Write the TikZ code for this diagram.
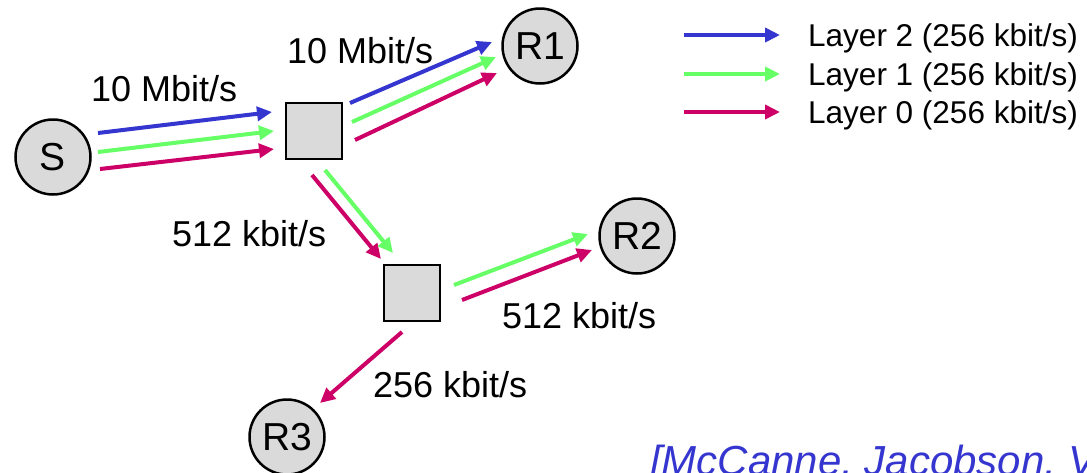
\documentclass[tikz,border=0pt]{standalone}
\usepackage{fontspec}
\setmainfont{Liberation Sans}
\usetikzlibrary{arrows.meta}
\definecolor{lblue}{HTML}{3535CF}
\definecolor{lgreen}{HTML}{66FF66}
\definecolor{lred}{HTML}{CC0066}
\definecolor{nodegray}{HTML}{DADADA}
\begin{document}
\begin{tikzpicture}[x=1pt,y=-1pt,
  host/.style={circle,draw=black,line width=2.5pt,fill=nodegray,minimum size=75pt,inner sep=0pt,font=\fontsize{39}{44}\selectfont},
  router/.style={rectangle,draw=black,line width=2.5pt,fill=nodegray,minimum size=56pt,inner sep=0pt},
  flow/.style={line width=4pt,-{Triangle[length=15pt,width=14pt]}},
  lbl/.style={font=\fontsize{36}{40}\selectfont,inner sep=0pt,anchor=base west},
  leg/.style={font=\fontsize{31.5}{36}\selectfont,inner sep=0pt,anchor=base west},
  l2/.style={flow,draw=lblue},
  l1/.style={flow,draw=lgreen},
  l0/.style={flow,draw=lred}]
\useasboundingbox (0,0) rectangle (1087,472);
\clip (0,0) rectangle (1087,472);
% nodes
\node[host] (S) at (53,157) {S};
\node[host] (R1) at (540,46) {R1};
\node[host] (R2) at (637,236) {R2};
\node[host] (R3) at (287,437) {R3};
\node[router] (B1) at (314,131) {};
\node[router] (B2) at (412,293) {};
% coordinates for parallel flows
\coordinate (s2a) at (98,133); \coordinate (s2b) at (272,112);
\coordinate (s1a) at (98,152); \coordinate (s1b) at (274,131);
\coordinate (s0a) at (100,169); \coordinate (s0b) at (274,149);
\coordinate (r2a) at (350,103); \coordinate (r2b) at (492,42);
\coordinate (r1a) at (352,122); \coordinate (r1b) at (496,57);
\coordinate (r0a) at (355,140); \coordinate (r0b) at (497,73);
\coordinate (d0a) at (312,175); \coordinate (d0b) at (381,259);
\coordinate (d1a) at (325,170); \coordinate (d1b) at (393,253);
\coordinate (e1a) at (454,285); \coordinate (e1b) at (588,234);
\coordinate (e0a) at (462,300); \coordinate (e0b) at (592,250);
\coordinate (f0a) at (402,332); \coordinate (f0b) at (320,403);
% flows
\draw[l2] (s2a) -- (s2b);
\draw[l1] (s1a) -- (s1b);
\draw[l0] (s0a) -- (s0b);
\draw[l2] (r2a) -- (r2b);
\draw[l1] (r1a) -- (r1b);
\draw[l0] (r0a) -- (r0b);
\draw[l0] (d0a) -- (d0b);
\draw[l1] (d1a) -- (d1b);
\draw[l1] (e1a) -- (e1b);
\draw[l0] (e0a) -- (e0b);
\draw[l0] (f0a) -- (f0b);
% labels
\node[lbl] (t1) at (91,101) {10 Mbit/s};
\node[lbl] (t2) at (287,63) {10 Mbit/s};
\node[lbl] (t3) at (172,246) {512 kbit/s};
\node[lbl] (t4) at (502,328) {512 kbit/s};
\node[lbl] (t5) at (373,397) {256 kbit/s};
% legend
\coordinate (la2) at (684,35); \coordinate (lb2) at (780,35);
\coordinate (la1) at (684,74); \coordinate (lb1) at (780,74);
\coordinate (la0) at (684,112); \coordinate (lb0) at (780,112);
\draw[l2] (la2) -- (lb2);
\draw[l1] (la1) -- (lb1);
\draw[l0] (la0) -- (lb0);
\node[leg] (g2) at (808,46) {Layer 2 (256 kbit/s)};
\node[leg] (g1) at (808,85) {Layer 1 (256 kbit/s)};
\node[leg] (g0) at (808,123) {Layer 0 (256 kbit/s)};
% citation
\node[anchor=base west,inner sep=0pt,text=lblue,font=\fontsize{42}{46}\selectfont\itshape] (cite) at (650,475) {[McCanne, Jacobson, V};
\end{tikzpicture}
\end{document}
